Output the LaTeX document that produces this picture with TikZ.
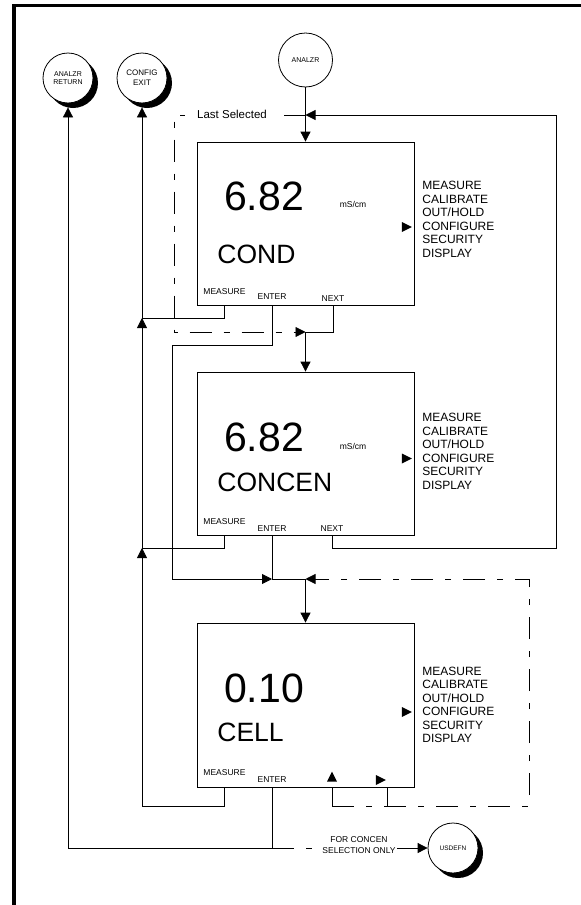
\documentclass[tikz,border=0pt]{standalone}
\usepackage{fontspec}
\setmainfont{Liberation Sans}
\usetikzlibrary{arrows.meta, shapes.geometric, shadows}

\begin{document}
\begin{tikzpicture}[x=1pt, y=-1pt, line width=0.8pt,
    >={Triangle[length=10pt,width=10pt]}]
  \tikzset{
    screen/.style={draw, minimum width=217pt, minimum height=163pt, inner sep=0pt},
    bubble/.style={circle, draw, fill=white, minimum size=50pt, inner sep=0pt, align=center,
      drop shadow={shadow xshift=5pt, shadow yshift=-5pt, fill=black, opacity=1}},
    bignum/.style={font=\fontsize{41}{41}\selectfont},
    tag/.style={font=\fontsize{26.5}{26.5}\selectfont, anchor=west, inner sep=0pt},
    unit/.style={font=\fontsize{8.5}{9}\selectfont},
    btn/.style={font=\fontsize{8.5}{11}\selectfont, inner sep=1pt},
    menu/.style={font=\fontsize{12}{13.5}\selectfont, align=left, anchor=west, inner sep=0pt},
    tri/.style={isosceles triangle, isosceles triangle stretches, fill, inner sep=0pt,
      minimum height=10pt, minimum width=10pt},
    dashline/.style={dash pattern=on 22pt off 12pt on 6pt off 12pt}}
  \useasboundingbox (0,0) rectangle (581,905);
  \draw[line width=3.6pt] (14,905) -- (14,5.5) -- (581,5.5);

  % exits
  \node[bubble, font=\fontsize{7}{8.5}\selectfont] (aret) at (68,78) {ANALZR\\RETURN};
  \node[bubble, font=\fontsize{8}{10}\selectfont] (cexit) at (142,78) {CONFIG\\EXIT};
  \node[circle, draw, minimum size=54pt, inner sep=0pt, font=\fontsize{7}{8}\selectfont] (analzr) at (305.5,60) {ANALZR};
  \node[bubble, font=\fontsize{6.5}{8}\selectfont] (usdefn) at (453,848) {USDEFN};

  % COND screen
  \node[screen] (cond) at (305.5,223.5) {};
  \node[bignum] (v1) at (264,196) {6.82};
  \node[unit] (u1) at (353,204) {mS/cm};
  \node[tag] (t1) at (217,254) {COND};
  \node[btn] (m1) at (224.5,292) {MEASURE};
  \node[btn] (e1) at (272,297) {ENTER};
  \node[btn] (n1) at (333,299) {NEXT};
  \node[tri, anchor=apex] (p1) at (413,227) {};
  \node[menu] (menu1) at (422,219.5) {MEASURE\\CALIBRATE\\OUT/HOLD\\CONFIGURE\\SECURITY\\DISPLAY};

  % CONCEN screen
  \node[screen] (concen) at (305.5,453.5) {};
  \node[bignum] (v2) at (264,437) {6.82};
  \node[unit] (u2) at (353,446) {mS/cm};
  \node[tag] (t2) at (217,482.5) {CONCEN};
  \node[btn] (m2) at (224.5,522) {MEASURE};
  \node[btn] (e2) at (272,529) {ENTER};
  \node[btn] (n2) at (332,529) {NEXT};
  \node[tri, anchor=apex] (p2) at (413,458.5) {};
  \node[menu] (menu2) at (422,451.5) {MEASURE\\CALIBRATE\\OUT/HOLD\\CONFIGURE\\SECURITY\\DISPLAY};

  % CELL screen
  \node[screen, minimum height=164pt] (cell) at (305.5,705) {};
  \node[bignum] (v3) at (264,688) {0.10};
  \node[tag] (t3) at (217,732.5) {CELL};
  \node[btn] (m3) at (224.5,773) {MEASURE};
  \node[btn] (e3) at (272,780) {ENTER};
  \node[tri, shape border rotate=90] (up3) at (332,778.5) {};
  \node[tri, anchor=apex] (rt3) at (387,780) {};
  \node[tri, anchor=apex] (p3) at (413,712) {};
  \node[menu] (menu3) at (422,705) {MEASURE\\CALIBRATE\\OUT/HOLD\\CONFIGURE\\SECURITY\\DISPLAY};

  % junctions
  \coordinate (j0) at (305.5,115);
  \coordinate (r0) at (556,115);
  \coordinate (j1) at (305.5,332);
  \coordinate (j2) at (272,579);
  \coordinate (j3) at (305.5,579);
  \coordinate (j4) at (272,848);
  \coordinate (mj1) at (142,318);
  \coordinate (mj2) at (142,548);
  \coordinate (c1) at (332,806);
  \coordinate (c2) at (529,806);

  % entry and last selected
  \draw[->] (analzr) -- (cond);
  \draw[dashline,->] (j0) -- (174,115) |- (j1);
  \node[font=\fontsize{11.5}{12}\selectfont, fill=white, inner xsep=12pt, inner ysep=1pt] (lsel) at (232,114) {Last Selected};
  \draw[->] (n2 |- concen.south) |- (556,548) -- (r0) -- (j0);

  % NEXT and ENTER
  \draw (n1 |- cond.south) |- (j1);
  \draw[->] (j1) -- (concen);
  \draw[->] (e1 |- cond.south) |- (172,345) |- (j2);
  \draw (e2 |- concen.south) -- (j2) -- (j3);
  \draw[->] (j3) -- (cell);
  \draw (up3 |- cell.south) -- (c1);
  \draw (rt3.apex |- cell.south) -- (rt3.apex |- c1);
  \draw[dashline,->] (c1) -- (c2) |- (j3);

  % MEASURE to CONFIG EXIT
  \draw (m1 |- cond.south) |- (mj1);
  \draw (m2 |- concen.south) |- (mj2);
  \draw[->] (m3 |- cell.south) |- (142,806) -- (mj2);
  \draw[->] (mj2) -- (mj1);
  \draw[->] (mj1) -- ([yshift=-4pt]cexit.south);

  % ENTER on CELL
  \node[btn, align=center] (forc) at (359,845.5) {FOR CONCEN\\SELECTION ONLY};
  \draw[->] (e3 |- cell.south) -- (j4) -| ([yshift=-4pt]aret.south);
  \draw[dashline] (j4) -- (forc.west |- j4);
  \draw[->] (forc.east |- j4) -- (usdefn);
\end{tikzpicture}
\end{document}
